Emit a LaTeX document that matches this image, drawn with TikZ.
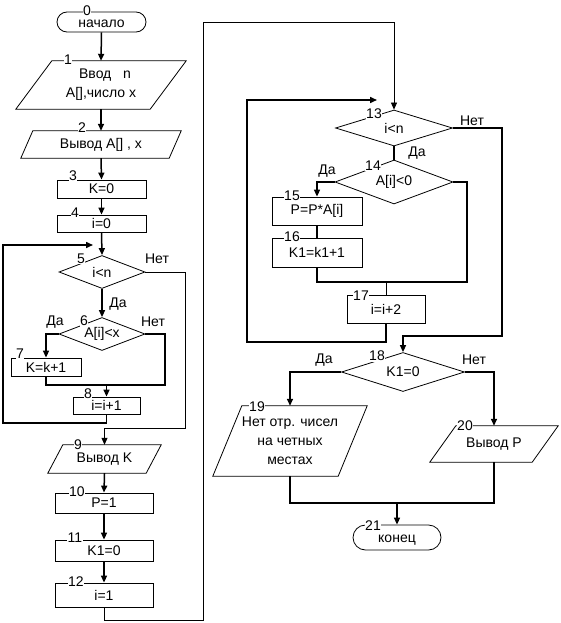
\documentclass[tikz,border=0pt]{standalone}
\usepackage{fontspec}
\setmainfont{Liberation Sans}
\usetikzlibrary{shapes.geometric,arrows.meta,calc}
\newcommand\drawpara[2]{\draw[shp] ([xshift=#2]#1.north west) -- ([xshift=#2]#1.north east) -- ([xshift=-#2]#1.south east) -- ([xshift=-#2]#1.south west) -- cycle;}
\tikzset{
  shp/.style={draw, line width=0.8pt},
  box/.style={shp, rectangle, inner sep=0pt},
  dec/.style={shp, diamond, aspect=2.6, inner sep=0pt},
  term/.style={shp, rectangle, inner sep=0pt},
  io/.style={rectangle, inner sep=0pt, align=center},
  num/.style={fill=white, inner sep=0.6pt},
  lbl/.style={inner sep=0pt},
  con/.style={line width=1.5pt},
  conthin/.style={line width=0.8pt},
  arr/.style={con, -{Triangle[length=7pt,width=6pt]}},
  arrthin/.style={conthin, -{Triangle[length=7pt,width=6pt]}}
}
\begin{document}
\begin{tikzpicture}[x=1pt,y=-1pt,font=\fontsize{14}{19}\selectfont]
\useasboundingbox (0,0) rectangle (560,623);
% ---- left column
\node[term, minimum width=89, minimum height=20, rounded corners=10pt] (n0) at (101.5,22) {\raisebox{-5.5pt}[0pt][0pt]{начало}};
\node[io, minimum width=134, minimum height=48] (n1) at (101,85) {\hspace*{8pt}Ввод\ \ \ n\\A[],число x};
\drawpara{n1}{18}
\node[io, minimum width=148, minimum height=27] (n2) at (101,144.5) {Вывод A[] , x};
\drawpara{n2}{6}
\node[box, minimum width=89, minimum height=18] (n3) at (101.5,189) {K=0};
\node[box, minimum width=89, minimum height=17] (n4) at (101.5,223.5) {i=0};
\node[dec, minimum width=86, minimum height=33] (n5) at (102,272) {i<n};
\node[dec, minimum width=86, minimum height=33] (n6) at (102,334) {A[i]<x};
\node[box, minimum width=70, minimum height=18] (n7) at (46,367) {K=k+1};
\node[box, minimum width=67, minimum height=17] (n8) at (106.5,405.5) {i=i+1};
\node[io, minimum width=98, minimum height=28] (n9) at (104.5,459) {Вывод K};
\drawpara{n9}{7.5}
\node[box, minimum width=98, minimum height=20] (n10) at (104,503) {P=1};
\node[box, minimum width=98, minimum height=21] (n11) at (104,550.5) {K1=0};
\node[box, minimum width=98, minimum height=24] (n12) at (104,595) {i=1};
% ---- right column
\node[dec, minimum width=117, minimum height=36] (n13) at (394,128) {i<n};
\node[dec, minimum width=118, minimum height=44] (n14) at (394,182) {A[i]<0};
\node[box, minimum width=90, minimum height=28] (n15) at (317,211) {P=P*A[i]};
\node[box, minimum width=90, minimum height=29] (n16) at (317,252.5) {K1=k1+1};
\node[box, minimum width=78, minimum height=28] (n17) at (386,309) {i=i+2};
\node[dec, minimum width=123, minimum height=39] (n18) at (403,372) {K1=0};
\node[io, minimum width=125, minimum height=70] (n19) at (290,441) {Нет отр. чисел\\на четных\\местах};
\drawpara{n19}{14.5}
\node[io, minimum width=102, minimum height=36] (n20) at (494,444) {Вывод P};
\drawpara{n20}{13}
\node[term, minimum width=88, minimum height=25, rounded corners=12.5pt] (n21) at (397,537.5) {\raisebox{-5pt}[0pt][0pt]{конец}};
% ---- connectors left
\draw[arr] (n0.south) -- (n1.north);
\draw[arr] (n1.south) -- (n2.north);
\draw[arr] (n2.south) -- (n3.north);
\draw[arr] (n3.south) -- (n4.north);
\draw[arr] (n4.south) -- (n5.north);
\coordinate (ca) at (3,423);
\coordinate (cb) at (93,245);
\draw[arr] (n8.south) |- (ca) |- (cb);
\coordinate (cc) at (185,428);
\draw[arrthin] (n5.east) -| (cc) -| (n9.north);
\draw[arr] (n5.south) -- (n6.north);
\draw[arr] (n6.west) -| (n7.north);
\coordinate (j6) at (165,385);
\draw[con] (n6.east) -| (j6) -- (n7.south |- j6) -- (n7.south);
\draw[arr] (n8.north |- j6) -- (n8.north);
\draw[arr] (n9.south) -- (n10.north);
\draw[arr] (n10.south) -- (n11.north);
\draw[arr] (n11.south) -- (n12.north);
\coordinate (cd) at (203,620);
\coordinate (ce) at (203,22);
\draw[arrthin] (n12.south) |- (cd) -- (ce) -| (n13.north);
% ---- connectors right
\coordinate (cf) at (502,336);
\draw[arr] (n13.east) -| (cf) -| (n18.north);
\draw[con] (n13.south) -- (n14.north);
\draw[arr] (n14.west) -| (n15.north);
\draw[con] (n15.south) -- (n16.north);
\coordinate (j14) at (467,282);
\draw[con] (n14.east) -| (j14) -- (n16.south |- j14) -- (n16.south);
\draw[conthin] (n17.north |- j14) -- (n17.north);
\coordinate (cg) at (247,342);
\coordinate (ch) at (377,100);
\draw[arr] (n17.south) |- (cg) |- (ch);
\draw[arr] (n18.west) -| (n19.north);
\draw[arr] (n18.east) -| (n20.north);
\coordinate (j18) at (397,503);
\draw[con] (n19.south) |- (j18) -| (n20.south);
\draw[arr] (j18) -- (n21.north);
% ---- yes/no labels
\node[lbl] (t5n) at (157,259) {Нет};
\node[lbl] (t5y) at (118,304) {Да};
\node[lbl] (t6y) at (55,322) {Да};
\node[lbl] (t6n) at (153,322) {Нет};
\node[lbl] (t13n) at (472,121) {Нет};
\node[lbl] (t13y) at (417,153) {Да};
\node[lbl] (t14y) at (327,171) {Да};
\node[lbl] (t18y) at (324,360) {Да};
\node[lbl] (t18n) at (474,360) {Нет};
% ---- numbers
\node[num] (l0) at (87,10.5) {0};
\node[num] (l1) at (68,60) {1};
\node[num] (l2) at (82,128) {2};
\node[num] (l3) at (73,176) {3};
\node[num] (l4) at (75,213) {4};
\node[num] (l5) at (81,259) {5};
\node[num] (l6) at (84,321) {6};
\node[num] (l7) at (20,354) {7};
\node[num] (l8) at (88,394) {8};
\node[num] (l9) at (78,445) {9};
\node[num] (l10) at (77,492) {10};
\node[num] (l11) at (75,538) {11};
\node[num] (l12) at (76,582) {12};
\node[num] (l13) at (374,114) {13};
\node[num] (l14) at (373,166) {14};
\node[num] (l15) at (292,196) {15};
\node[num] (l16) at (292,237) {16};
\node[num] (l17) at (361,296) {17};
\node[num] (l18) at (377,356) {18};
\node[num] (l19) at (257,407) {19};
\node[num] (l20) at (465,426) {20};
\node[num] (l21) at (373,526) {21};
\end{tikzpicture}
\end{document}
